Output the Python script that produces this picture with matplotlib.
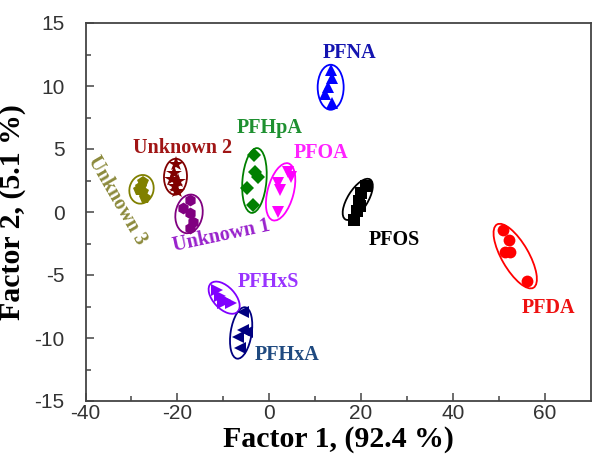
import matplotlib.pyplot as plt
from matplotlib.patches import Ellipse
from matplotlib.transforms import Affine2D, ScaledTranslation

plt.rcParams['axes.unicode_minus'] = False

# score values per group (Factor 1, Factor 2)
pfos_x = [21.1, 20.0, 19.5, 19.7, 19.1, 18.5]
pfos_y = [2.1, 1.5, 0.9, 0.45, 0.1, -0.6]
pfda_x = [51.0, 52.3, 51.4, 52.5, 56.2]
pfda_y = [-1.4, -2.2, -3.2, -3.2, -5.5]
pfna_x = [13.4, 13.6, 12.9, 12.2, 13.6]
pfna_y = [11.3, 10.6, 9.9, 9.4, 8.65]
pfoa_x = [4.1, 4.8, 1.9, 2.4, 1.9]
pfoa_y = [3.2, 2.8, 2.3, 1.75, 0.0]
pfhpa_x = [-3.3, -3.1, -2.4, -4.9, -3.5]
pfhpa_y = [4.5, 3.2, 2.8, 1.9, 0.55]
pfhxa_x = [-5.7, -5.7, -4.9, -6.8, -6.3]
pfhxa_y = [-7.9, -9.4, -9.5, -9.9, -10.8]
pfhxs_x = [-11.4, -10.7, -9.6, -8.2, -10.0]
pfhxs_y = [-6.2, -6.7, -7.0, -7.2, -7.2]
unk1_x = [-17.2, -18.8, -17.2, -16.6, -17.2]
unk1_y = [0.95, 0.3, -0.1, -0.8, -1.3]
unk2_x = [-20.3, -20.7, -21.2, -19.9, -20.5, -20.1]
unk2_y = [3.8, 3.1, 2.6, 2.5, 2.1, 1.7]
unk3_x = [-27.5, -27.9, -27.5, -27.0, -28.3]
unk3_y = [2.4, 2.0, 1.6, 1.1, 1.75]

# ellipse centres in data units
ell_centres = {'PFOS': (19.3, 1.0), 'PFDA': (53.6, -3.5), 'PFNA': (13.4, 9.9),
               'PFOA': (2.5, 1.6), 'PFHpA': (-3.2, 2.5), 'PFHxA': (-6.1, -9.6),
               'PFHxS': (-9.8, -6.8), 'Unknown 1': (-17.45, -0.15),
               'Unknown 2': (-20.4, 2.8), 'Unknown 3': (-27.8, 1.8)}

label_pos = {'PFOS': (27.2, -2.2), 'PFDA': (60.8, -7.6), 'PFNA': (17.4, 12.6),
             'PFOA': (11.3, 4.7), 'PFHpA': (0.2, 6.7), 'PFHxA': (3.9, -11.35),
             'PFHxS': (-0.2, -5.55), 'Unknown 1': (-10.3, -1.9),
             'Unknown 2': (-18.8, 5.1), 'Unknown 3': (-33.1, 0.95)}

groups = [
    # name, x, y, marker, colour, label colour, ellipse w/h (px), angle, label rotation
    ('PFOS', pfos_x, pfos_y, 's', 'black', 'black', 47, 20, 58, 0),
    ('PFDA', pfda_x, pfda_y, 'o', '#ff0000', '#ee1111', 73, 27, 120, 0),
    ('PFNA', pfna_x, pfna_y, '^', '#0000ff', '#1414b0', 26, 45, 0, 0),
    ('PFOA', pfoa_x, pfoa_y, 'v', '#ff00ff', '#ff22ff', 59, 26, 75, 0),
    ('PFHpA', pfhpa_x, pfhpa_y, 'D', '#008000', '#1e9030', 65, 24, 85, 0),
    ('PFHxA', pfhxa_x, pfhxa_y, '<', '#000080', '#1f4a80', 52, 21, 81, 0),
    ('PFHxS', pfhxs_x, pfhxs_y, '>', '#8000ff', '#9933ff', 39, 22, 133, 0),
    ('Unknown 1', unk1_x, unk1_y, 'h', '#800080', '#9922cc', 39, 27, 80, 12),
    ('Unknown 2', unk2_x, unk2_y, '*', '#800000', '#a01515', 36, 23, 88, 0),
    ('Unknown 3', unk3_x, unk3_y, 'p', '#808000', '#8c8a3c', 29, 24, 75, -60),
]

fig = plt.figure(figsize=(5.92, 4.66), dpi=100)
ax = fig.add_axes([85.5 / 592, 1 - 401 / 466, 505 / 592, 378 / 466])

for name, x, y, m, c, lc, w, h, ang, rot in groups:
    ms = 11.5 if m == '*' else 8.5
    if m == 'D':
        ms = 7.5
    ax.plot(x, y, linestyle='none', marker=m, color=c, markersize=ms, markeredgewidth=0)
    cx, cy = ell_centres[name]
    tr = Affine2D().scale(fig.dpi / 100.0) + ScaledTranslation(cx, cy, ax.transData)
    ax.add_patch(Ellipse((0, 0), w, h, angle=ang, fill=False, edgecolor=c,
                         linewidth=1.3, transform=tr))
    lx, ly = label_pos[name]
    ax.text(lx, ly, name, color=lc, fontsize=14.5, fontweight='bold',
            family='Liberation Serif', ha='center', va='center', rotation=rot)

ax.set_xlim(-40, 70)
ax.set_ylim(-15, 15)
ax.set_xticks([-40, -20, 0, 20, 40, 60])
ax.set_xticks(range(-30, 70, 20), minor=True)
ax.set_yticks([-15, -10, -5, 0, 5, 10, 15])
ax.set_yticks([-12.5, -7.5, -2.5, 2.5, 7.5, 12.5], minor=True)
ax.tick_params(which='both', direction='in', colors='#444444', labelcolor='#333333',
               labelsize=15, width=1.1)
ax.tick_params(which='major', length=6)
ax.tick_params(which='minor', length=3.5)
ax.tick_params(axis='x', pad=2)
ax.tick_params(axis='y', pad=15)
for lab in ax.get_xticklabels() + ax.get_yticklabels():
    lab.set_family('Liberation Sans')
for s in ax.spines.values():
    s.set_color('#444444')
    s.set_linewidth(1.3)

ax.set_xlabel('Factor 1, (92.4 %)', fontsize=21.5, fontweight='bold',
              family='Liberation Serif', labelpad=2)
ax.set_ylabel('Factor 2, (5.1 %)', fontsize=21.5, fontweight='bold',
              family='Liberation Serif')
ax.yaxis.set_label_coords(-0.118, 0.5)

fig.savefig('out.png', dpi=100)
